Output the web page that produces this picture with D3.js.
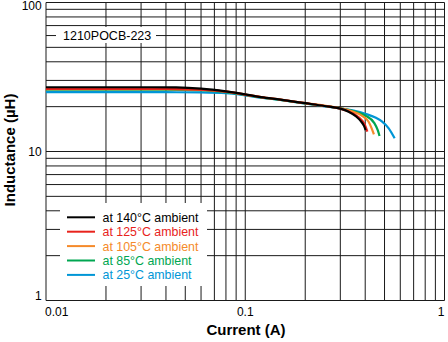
<!DOCTYPE html>
<html>
<head>
<meta charset="utf-8">
<script src="https://cdn.jsdelivr.net/npm/d3@7"></script>
<style>
html,body{margin:0;padding:0;background:#fff;}
svg{display:block;font-family:"Liberation Sans",Arial,Helvetica,sans-serif;}
</style>
</head>
<body>
<svg id="chart" width="448" height="342"></svg>
<script>
// ---- data ----
const seriesNames = ["at 140°C ambient","at 125°C ambient","at 105°C ambient","at 85°C ambient","at 25°C ambient"];
const seriesColors = ["#000000","#e8231c","#f58a2a","#00a651","#0096d6"];

const current140 = [0.01,0.03,0.045,0.06,0.08,0.1,0.12,0.15,0.2,0.25,0.3,0.33,0.36,0.38,0.395,0.402];
const induct140  = [27.0,27.0,26.9,26.4,25.3,24.2,23.2,22.3,21.1,20.2,19.4,18.5,17.2,16.0,14.8,13.9];

const current125 = [0.01,0.04,0.06,0.08,0.1,0.12,0.15,0.2,0.25,0.3,0.33,0.36,0.385,0.40,0.41];
const induct125  = [26.3,26.3,26.0,25.2,24.1,23.2,22.3,21.1,20.2,19.4,18.6,17.5,16.2,14.9,13.6];

const current105 = [0.01,0.04,0.06,0.08,0.1,0.12,0.15,0.2,0.25,0.3,0.34,0.384,0.416,0.431,0.442];
const induct105  = [26.2,26.2,25.9,25.2,24.1,23.2,22.3,21.1,20.3,19.5,18.7,17.4,15.85,14.3,13.05];

const current85 = [0.01,0.04,0.06,0.08,0.1,0.12,0.15,0.2,0.25,0.3,0.35,0.401,0.4446,0.4624,0.472];
const induct85  = [26.0,26.0,25.8,25.0,24.0,23.1,22.2,21.0,20.2,19.5,18.6,17.4,15.5,13.9,12.7];

const current25 = [0.01,0.04,0.06,0.08,0.1,0.12,0.15,0.2,0.25,0.3,0.35,0.401,0.45,0.4864,0.5248,0.562];
const induct25  = [25.0,25.0,24.9,24.6,23.8,23.0,22.2,21.0,20.1,19.5,18.8,17.9,16.9,15.85,14.3,12.27];

const xTickValues = [0.01,0.1,1];
const xTickLabels = ["0.01","0.1","1"];
const yTickValues = [1,10,100];
const yTickLabels = ["1","10","100"];
const partLabel = "1210POCB-223";
const xTitle = "Current (A)";
const yTitle = "Inductance (µH)";

// ---- drawing ----
const svg = d3.select("#chart");
const x = d3.scaleLog().domain([0.01,1]).range([46,444.5]);
const y = d3.scaleLog().domain([1,100]).range([300.5,2.5]);

// grid values
const gridX = [], gridY = [];
[0.01,0.1].forEach(d => { for (let k=1;k<=10;k++) gridX.push(+(d*k).toPrecision(3)); });
[1,10].forEach(d => { for (let k=1;k<=10;k++) gridY.push(+(d*k).toPrecision(3)); });

const grid = svg.append("g").attr("stroke","#1a1a1a").attr("stroke-width",1).attr("fill","none");
grid.selectAll("line.v").data(Array.from(new Set(gridX))).join("line")
  .attr("x1",d=>x(d)).attr("x2",d=>x(d)).attr("y1",y(100)).attr("y2",y(1));
grid.selectAll("line.h").data(Array.from(new Set(gridY))).join("line")
  .attr("y1",d=>y(d)).attr("y2",d=>y(d)).attr("x1",x(0.01)).attr("x2",x(1));

// part label box
svg.append("rect").attr("x",56).attr("y",27).attr("width",100).attr("height",16).attr("fill","#fff");
svg.append("text").attr("x",63).attr("y",39.5).attr("font-size",12.5).attr("fill","#000").text(partLabel);

// curves (drawn in reverse so black ends on top)
const line = d3.line().x(d=>x(d[0])).y(d=>y(d[1])).curve(d3.curveMonotoneX);
const allSeries = [
  d3.zip(current140,induct140),
  d3.zip(current125,induct125),
  d3.zip(current105,induct105),
  d3.zip(current85,induct85),
  d3.zip(current25,induct25)
];
const order = [4,3,2,1,0];
svg.append("g").selectAll("path").data(order).join("path")
  .attr("d",i=>line(allSeries[i]))
  .attr("fill","none")
  .attr("stroke",i=>seriesColors[i])
  .attr("stroke-width",2.2)
  .attr("stroke-linecap","butt");

// legend
svg.append("rect").attr("x",60).attr("y",203).attr("width",147).attr("height",83).attr("fill","#fff");
const leg = svg.append("g");
seriesNames.forEach((name,i)=>{
  const cy = 217.3 + i*14.4;
  leg.append("line").attr("x1",67).attr("x2",95).attr("y1",cy).attr("y2",cy)
    .attr("stroke",seriesColors[i]).attr("stroke-width",2);
  leg.append("text").attr("x",102.5).attr("y",cy+4.4).attr("font-size",12.4)
    .attr("fill",seriesColors[i]).text(name);
});

// tick labels
const xl = svg.append("g").attr("font-size",12).attr("fill","#000");
xTickValues.forEach((v,i)=>{
  const anchor = i===0 ? "start" : (i===xTickValues.length-1 ? "end" : "middle");
  const px = i===0 ? x(v)-1 : x(v);
  xl.append("text").attr("x",px).attr("y",315.5).attr("text-anchor",anchor).text(xTickLabels[i]);
});
const yPos = {1:296, 10:151.5, 100:6};
yTickValues.forEach((v,i)=>{
  xl.append("text").attr("x",41.7).attr("y",yPos[v]+4.3).attr("text-anchor","end").text(yTickLabels[i]);
});

// axis titles
svg.append("text").attr("x",246).attr("y",335).attr("text-anchor","middle")
  .attr("font-size",15).attr("font-weight","bold").text(xTitle);
svg.append("text").attr("transform","translate(15,150) rotate(-90)").attr("text-anchor","middle")
  .attr("font-size",15).attr("font-weight","bold").text(yTitle);
</script>
</body>
</html>
